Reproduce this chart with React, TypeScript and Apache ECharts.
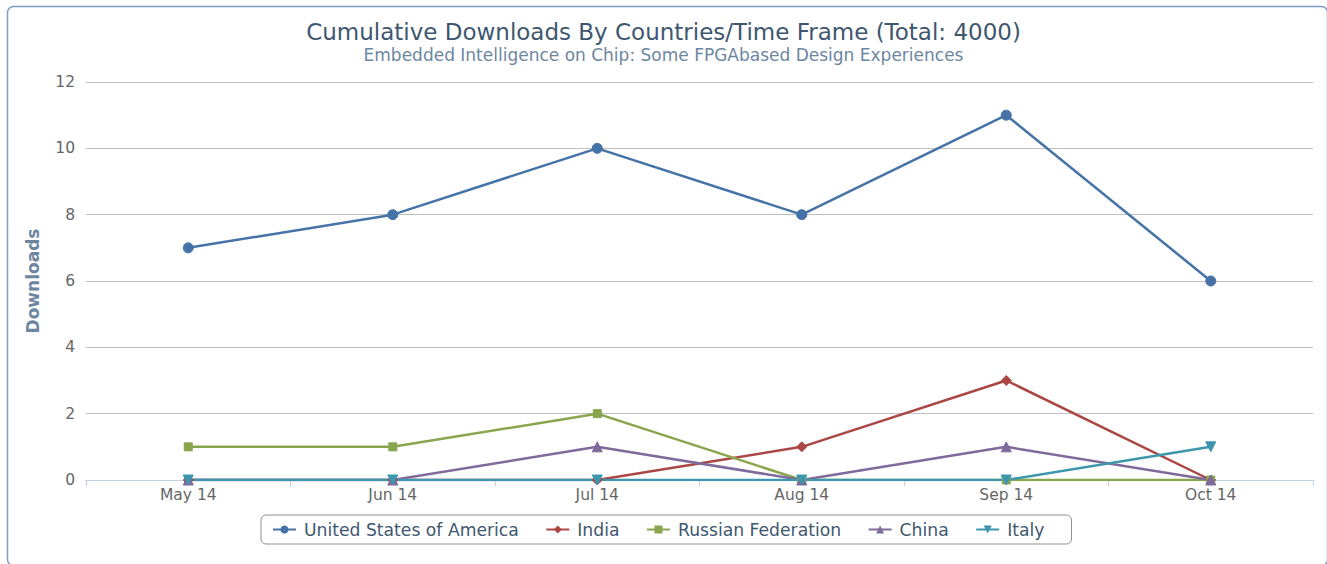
import React, { useEffect, useRef } from "react";
import * as echarts from "echarts";

const categories = ["May 14", "Jun 14", "Jul 14", "Aug 14", "Sep 14", "Oct 14"];
const usa = [7, 8, 10, 8, 11, 6];
const india = [0, 0, 0, 1, 3, 0];
const russia = [1, 1, 2, 0, 0, 0];
const china = [0, 0, 1, 0, 1, 0];
const italy = [0, 0, 0, 0, 0, 1];
const yTicks = { min: 0, max: 12, interval: 2 };

const FONT = "'DejaVu Sans', Verdana, sans-serif";

export default function App() {
  const ref = useRef<HTMLDivElement>(null);
  useEffect(() => {
    if (!ref.current) return;
    const chart = echarts.init(ref.current, undefined, { renderer: "svg" });
    const mk = (name: string, data: number[], color: string, symbol: string, size: number) => ({
      name,
      type: "line",
      data,
      symbol,
      symbolSize: size,
      showSymbol: true,
      lineStyle: { color, width: 2.5 },
      itemStyle: { color, borderColor: color },
      emphasis: { disabled: true },
    });
    chart.setOption({
      animation: false,
      textStyle: { fontFamily: FONT },
      title: {
        text: "Cumulative Downloads By Countries/Time Frame (Total: 4000)",
        subtext: "Embedded Intelligence on Chip: Some FPGAbased Design Experiences",
        left: "center",
        top: 15,
        itemGap: 3,
        textStyle: { fontFamily: FONT, fontSize: 23, fontWeight: "normal", color: "#3E576F" },
        subtextStyle: { fontFamily: FONT, fontSize: 17, color: "#6D869F" },
      },
      grid: { left: 86, right: 14, top: 82, bottom: 84, containLabel: false },
      legend: {
        bottom: 20,
        left: 261,
        itemWidth: 23,
        itemHeight: 10,
        itemGap: 26.5,
        padding: [6, 27, 6, 11],
        borderColor: "#909090",
        borderWidth: 1,
        borderRadius: 5,
        textStyle: { fontFamily: FONT, fontSize: 17.2, color: "#3E576F", padding: [0, 0, 0, 3] },
        data: ["United States of America", "India", "Russian Federation", "China", "Italy"],
      },
      xAxis: {
        type: "category",
        data: categories,
        boundaryGap: true,
        axisLine: { lineStyle: { color: "#C0D0E0", width: 1 } },
        axisTick: { show: true, length: 6, lineStyle: { color: "#C0D0E0" } },
        axisLabel: { color: "#666666", fontSize: 15.5, margin: 7, fontFamily: FONT },
        splitLine: { show: false },
      },
      yAxis: {
        type: "value",
        min: yTicks.min,
        max: yTicks.max,
        interval: yTicks.interval,
        name: "Downloads",
        nameLocation: "middle",
        nameGap: 45,
        nameRotate: 90,
        nameTextStyle: { color: "#6D869F", fontWeight: "bold", fontSize: 17, fontFamily: FONT },
        axisLine: { show: false },
        axisTick: { show: false },
        axisLabel: { color: "#666666", fontSize: 15.5, margin: 11, fontFamily: FONT },
        splitLine: { lineStyle: { color: "#C0C0C0", width: 1 } },
      },
      series: [
        mk("United States of America", usa, "#4572A7", "circle", 10),
        mk("India", india, "#AA4643", "diamond", 10),
        mk("Russian Federation", russia, "#89A54E", "rect", 8),
        mk("China", china, "#80699B", "triangle", 10),
        mk("Italy", italy, "#3D96AE", "path://M0,0 L10,0 L5,9 Z", 10),
      ],
      graphic: [
        {
          type: "rect",
          left: 5,
          top: 4,
          shape: { width: 1320, height: 559, r: 6 },
          style: { fill: "none", stroke: "#7E9DC8", lineWidth: 1.5 },
          silent: true,
          z: -1,
        },
      ],
    });
    return () => chart.dispose();
  }, []);
  return (
    <div
      ref={ref}
      style={{ position: "fixed", left: 0, top: 0, width: 1327, height: 564, background: "#fff" }}
    />
  );
}
